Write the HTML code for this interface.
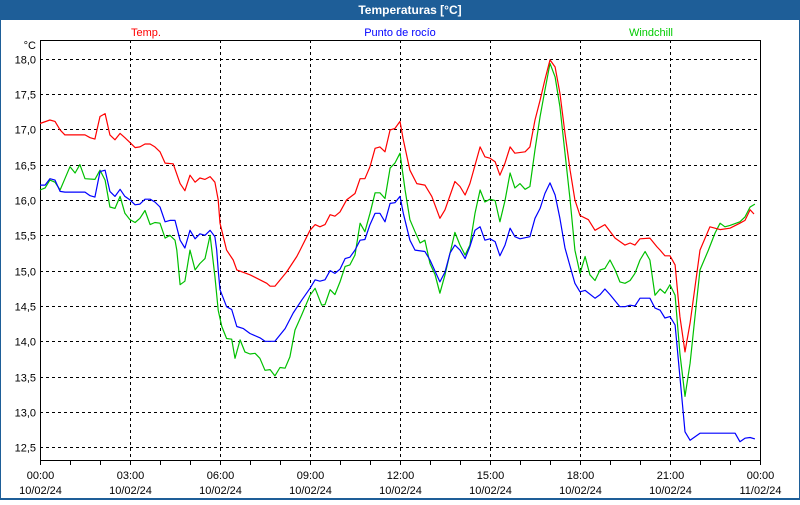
<!DOCTYPE html>
<html><head><meta charset="utf-8"><style>
html,body{margin:0;padding:0;background:#fff}
body{width:800px;height:500px;overflow:hidden;font-family:"Liberation Sans",sans-serif}
</style></head><body>
<svg id="chart" width="800" height="500" xmlns="http://www.w3.org/2000/svg" font-family="Liberation Sans, sans-serif" font-size="11">
<rect x="0" y="0" width="800" height="500" fill="#1e5e98"/>
<rect x="1" y="20" width="798" height="478" fill="#fff"/>
<text x="410" y="14" text-anchor="middle" fill="#fff" font-weight="bold" font-size="12">Temperaturas [°C]</text>
<text x="146" y="36" text-anchor="middle" fill="#ff0000">Temp.</text>
<text x="400" y="36" text-anchor="middle" fill="#0000ff">Punto de rocío</text>
<text x="651" y="36" text-anchor="middle" fill="#00cc00">Windchill</text>
<text x="36" y="49" text-anchor="end" fill="#000">°C</text>
<g id="grid"></g><g id="axes"></g><g id="series"></g>
</svg>
<script>
const yTicks=[18.0,17.5,17.0,16.5,16.0,15.5,15.0,14.5,14.0,13.5,13.0,12.5];
const xTickHours=[0,3,6,9,12,15,18,21,24];
const xTickTimes=["00:00","03:00","06:00","09:00","12:00","15:00","18:00","21:00","00:00"];
const xTickDates=["10/02/24","10/02/24","10/02/24","10/02/24","10/02/24","10/02/24","10/02/24","10/02/24","11/02/24"];
const tempH=[0,0.33,0.5,0.67,0.83,1.5,1.67,1.83,2.0,2.17,2.33,2.5,2.67,2.83,3.0,3.17,3.33,3.5,3.67,3.83,4.0,4.17,4.44,4.67,4.83,5.0,5.17,5.33,5.5,5.67,5.83,5.94,6.0,6.22,6.44,6.56,7.0,7.56,7.67,7.83,8.22,8.56,8.67,9.0,9.17,9.33,9.5,9.67,9.83,10.0,10.22,10.5,10.67,10.83,11.0,11.17,11.33,11.5,11.67,11.83,12.0,12.11,12.33,12.56,12.83,13.06,13.33,13.5,13.83,14.0,14.17,14.33,14.5,14.67,14.83,15.0,15.17,15.33,15.5,15.67,15.83,16.17,16.33,16.5,16.67,16.83,17.0,17.17,17.33,17.5,17.67,17.83,18.0,18.28,18.5,18.83,19.17,19.5,19.67,19.83,20.0,20.33,20.56,20.67,20.83,21.0,21.17,21.33,21.5,21.67,22.0,22.33,22.5,22.67,23.0,23.33,23.5,23.67,23.8];
const tempV=[17.08,17.13,17.11,16.99,16.92,16.92,16.88,16.86,17.18,17.22,16.92,16.85,16.94,16.88,16.81,16.74,16.75,16.79,16.79,16.75,16.68,16.52,16.51,16.23,16.13,16.35,16.25,16.31,16.29,16.33,16.25,16.0,15.67,15.29,15.15,15.01,14.94,14.82,14.78,14.78,14.98,15.2,15.29,15.57,15.65,15.62,15.65,15.79,15.77,15.83,16.0,16.09,16.3,16.3,16.47,16.73,16.75,16.68,16.99,17.01,17.11,16.85,16.42,16.23,16.21,16.05,15.74,15.86,16.26,16.19,16.07,16.23,16.49,16.75,16.61,16.59,16.54,16.35,16.52,16.75,16.66,16.68,16.75,17.13,17.41,17.7,17.98,17.88,17.51,16.94,16.42,16.0,15.78,15.72,15.57,15.65,15.46,15.36,15.39,15.36,15.45,15.46,15.34,15.29,15.21,15.21,15.08,14.35,13.85,14.26,15.29,15.62,15.6,15.58,15.6,15.67,15.71,15.86,15.8];
const dewH=[0,0.17,0.33,0.5,0.67,0.83,1.5,1.67,1.83,2.0,2.17,2.33,2.5,2.67,2.83,3.0,3.17,3.33,3.5,3.67,3.83,4.0,4.17,4.33,4.5,4.67,4.83,5.0,5.17,5.33,5.5,5.67,5.83,5.89,5.94,6.0,6.22,6.39,6.56,6.78,7.0,7.33,7.5,7.83,8.17,8.44,8.72,9.0,9.17,9.33,9.5,9.67,9.83,10.0,10.17,10.33,10.5,10.67,10.83,11.0,11.17,11.33,11.5,11.67,11.83,12.0,12.11,12.33,12.5,12.83,13.0,13.33,13.5,13.67,13.83,14.0,14.17,14.33,14.5,14.67,14.83,15.0,15.17,15.33,15.5,15.67,15.83,16.0,16.33,16.5,16.67,16.83,17.0,17.17,17.33,17.5,17.67,17.83,18.0,18.17,18.5,18.67,18.83,19.0,19.33,19.5,19.67,19.83,20.0,20.33,20.5,20.67,20.83,21.0,21.17,21.33,21.5,21.67,22.0,23.17,23.33,23.5,23.67,23.83];
const dewV=[16.21,16.21,16.3,16.28,16.12,16.11,16.11,16.06,16.04,16.4,16.42,16.12,16.05,16.15,16.05,16.0,15.93,15.94,16.01,16.01,15.97,15.9,15.69,15.71,15.71,15.43,15.32,15.57,15.45,15.52,15.5,15.57,15.48,15.29,15.01,14.73,14.49,14.45,14.21,14.18,14.11,14.05,14.0,14.0,14.18,14.4,14.58,14.75,14.87,14.85,14.87,15.0,14.96,15.02,15.17,15.19,15.29,15.43,15.44,15.65,15.81,15.81,15.69,15.95,15.96,16.05,15.81,15.43,15.29,15.27,15.15,14.84,14.98,15.25,15.36,15.29,15.17,15.34,15.57,15.62,15.43,15.45,15.41,15.21,15.36,15.6,15.48,15.45,15.48,15.74,15.88,16.09,16.24,16.07,15.74,15.32,15.06,14.82,14.7,14.72,14.61,14.66,14.74,14.66,14.49,14.49,14.51,14.5,14.61,14.61,14.47,14.44,14.33,14.35,14.23,13.5,12.72,12.6,12.7,12.7,12.58,12.63,12.64,12.62];
const chillH=[0,0.17,0.33,0.5,0.67,0.83,1.0,1.17,1.33,1.5,1.83,2.0,2.17,2.33,2.5,2.67,2.83,3.0,3.17,3.33,3.5,3.67,3.83,4.0,4.17,4.33,4.5,4.56,4.67,4.83,5.0,5.17,5.33,5.5,5.67,5.83,5.94,6.06,6.22,6.39,6.5,6.67,6.83,7.0,7.17,7.33,7.5,7.67,7.83,8.0,8.17,8.33,8.5,8.72,9.0,9.17,9.39,9.5,9.67,9.83,10.0,10.17,10.33,10.5,10.67,10.83,11.0,11.17,11.33,11.5,11.67,11.83,12.0,12.17,12.33,12.5,12.67,12.83,13.0,13.17,13.33,13.5,13.67,13.83,14.0,14.17,14.33,14.5,14.67,14.83,15.0,15.17,15.33,15.5,15.67,15.83,16.0,16.17,16.33,16.5,16.67,16.83,17.0,17.17,17.33,17.5,17.67,17.83,18.0,18.17,18.33,18.5,18.67,18.83,19.0,19.17,19.33,19.5,19.67,19.83,20.0,20.17,20.33,20.5,20.67,20.83,21.0,21.17,21.33,21.5,21.67,21.89,22.0,22.28,22.5,22.67,22.83,23.0,23.33,23.5,23.67,23.83];
const chillV=[16.14,16.17,16.28,16.25,16.14,16.3,16.47,16.38,16.5,16.3,16.29,16.42,16.28,15.9,15.88,16.05,15.81,15.72,15.68,15.74,15.85,15.65,15.68,15.67,15.46,15.5,15.43,15.29,14.8,14.85,15.29,15.01,15.1,15.17,15.5,14.92,14.44,14.21,14.04,14.03,13.76,14.02,13.85,13.82,13.83,13.76,13.59,13.6,13.51,13.63,13.62,13.78,14.16,14.37,14.65,14.75,14.51,14.52,14.73,14.66,14.84,15.06,15.08,15.22,15.67,15.55,15.81,16.1,16.1,16.02,16.45,16.52,16.66,16.14,15.72,15.55,15.39,15.43,15.1,14.94,14.68,14.94,15.25,15.54,15.36,15.22,15.36,15.81,16.14,15.97,16.01,15.99,15.69,15.99,16.38,16.17,16.23,16.15,16.19,16.71,17.18,17.55,17.93,17.74,17.32,16.66,16.0,15.29,14.96,15.2,14.94,14.86,15.01,15.03,15.15,15.01,14.84,14.82,14.86,14.96,15.15,15.27,15.15,14.65,14.74,14.68,14.8,14.65,13.83,13.22,13.69,14.58,15.01,15.29,15.53,15.67,15.62,15.64,15.69,15.76,15.9,15.94];

const L=40,R=760,T=40,B=460;
function xs(h){return L+(R-L)*h/24;}
function ys(v){return 58.5+(18-v)*70.7;}
const NS="http://www.w3.org/2000/svg";
function mk(tag,attrs,parent){const e=document.createElementNS(NS,tag);for(const k in attrs)e.setAttribute(k,attrs[k]);parent.appendChild(e);return e;}
const grid=document.getElementById('grid'),axes=document.getElementById('axes'),ser=document.getElementById('series');
yTicks.forEach(v=>{
  const y=Math.round(ys(v))+0.5;
  const g=mk('line',{x1:L,x2:R,y1:y,y2:y,stroke:'#000','stroke-dasharray':'3,3','stroke-width':1},grid);
  
  
  const t=mk('text',{x:36,y:y+4,'text-anchor':'end',fill:'#000'},axes);
  t.textContent=v.toFixed(1).replace('.',',');
  
  
});
xTickHours.forEach((h,i)=>{
  const x=Math.round(xs(h))+0.5;
  if(h>0&&h<24){
    const g=mk('line',{x1:x,x2:x,y1:T,y2:B,stroke:'#000','stroke-dasharray':'3,3','stroke-width':1},grid);
    
    
  }
  const t1=mk('text',{x:x,y:479,'text-anchor':'middle',fill:'#000'},axes);
  t1.textContent=xTickTimes[i];
  
  
  const t2=mk('text',{x:x,y:494,'text-anchor':'middle',fill:'#000'},axes);
  t2.textContent=xTickDates[i];
  
  
});
for(let h=0;h<=24;h++){
  const x=Math.round(xs(h))+0.5;
  const tk=mk('line',{x1:x,x2:x,y1:B,y2:B+5,stroke:'#000'},axes);
  
  
}
const box=mk('rect',{x:L+0.5,y:T+0.5,width:R-L,height:B-T,fill:'none',stroke:'#000'},axes);


function line(H,V,color,name){
  const pts=H.map((h,i)=>xs(h).toFixed(1)+','+ys(V[i]).toFixed(1)).join(' ');
  const p=mk('polyline',{points:pts,fill:'none',stroke:color,'stroke-width':1.2,'stroke-linejoin':'round'},ser);
  
  
}
line(chillH,chillV,'#00c000','windchill-line');
line(dewH,dewV,'#0000ff','dew-point-line');
line(tempH,tempV,'#ff0000','temp-line');
</script>
</body></html>
